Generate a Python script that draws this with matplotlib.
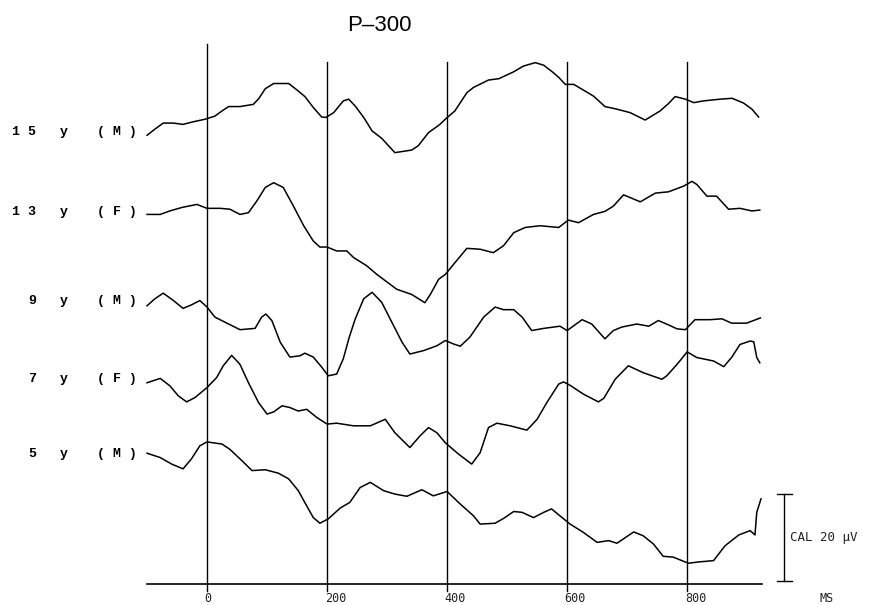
"""P-300 evoked potential traces by age group."""

import matplotlib.pyplot as plt

# time (ms) and amplitude (uV, relative to each trace's own baseline)
t_15m = [-100, -87, -73, -56, -40, -23, -3, 13, 25, 36, 55, 77, 86, 97, 111, 136, 150,
         163, 177, 191, 198, 211, 227, 236, 247, 261, 275, 291, 313, 341, 352, 369, 388,
         397, 413, 433, 444, 469, 486, 511, 527, 547, 561, 577, 586, 597, 611, 627, 644,
         663, 683, 705, 730, 755, 769, 780, 797, 811, 827, 855, 875, 894, 908, 919]
a_15m = [-0.7, 0.7, 2.1, 2.1, 1.8, 2.4, 3.0, 3.7, 4.9, 5.9, 5.9, 6.4, 7.7, 10.0, 11.2, 11.2, 9.7,
         8.2, 5.7, 3.5, 3.4, 4.5, 7.2, 7.6, 6.0, 3.4, 0.3, -1.4, -4.7, -4.1, -3.1, -0.1, 1.8,
         3.0, 4.9, 9.1, 10.3, 12.0, 12.3, 13.9, 15.2, 16.0, 15.4, 13.7, 12.6, 11.0, 11.0, 9.7, 8.3,
         5.9, 5.3, 4.5, 2.8, 4.9, 6.6, 8.2, 7.6, 6.8, 7.2, 7.6, 7.8, 6.7, 5.3, 3.5]

t_13f = [-100, -78, -62, -42, -17, 0, 22, 38, 55, 69, 83, 97, 111, 127, 144, 161, 177,
         188, 200, 216, 233, 244, 266, 283, 316, 341, 363, 372, 386, 397, 413, 433, 455,
         477, 494, 511, 530, 555, 586, 602, 619, 644, 663, 677, 694, 722, 747, 769, 794,
         808, 816, 833, 849, 869, 888, 908, 921]
a_13f = [-0.5, -0.5, 0.3, 1.1, 1.8, 0.9, 0.9, 0.7, -0.5, -0.1, 2.6, 5.7, 6.8, 5.7, 1.4, -3.1, -6.6,
         -8.0, -8.0, -8.9, -8.9, -10.4, -12.3, -14.3, -17.7, -18.9, -20.8, -18.9, -15.4, -14.3, -11.6, -8.3, -8.5,
         -9.3, -7.7, -4.7, -3.5, -3.1, -3.5, -1.8, -2.4, -0.5, 0.2, 1.4, 4.0, 2.4, 4.4, 4.7, 6.0,
         7.1, 6.4, 3.7, 3.7, 0.7, 0.9, 0.3, 0.5]

t_9m = [-100, -87, -73, -56, -40, -26, -12, 0, 13, 36, 55, 80, 91, 98, 108, 122, 138,
        155, 163, 177, 191, 202, 216, 227, 237, 247, 261, 275, 291, 308, 325, 338, 361,
        383, 397, 411, 422, 438, 461, 480, 494, 511, 525, 541, 561, 588, 600, 625, 641,
        663, 677, 691, 716, 736, 752, 769, 783, 797, 813, 838, 858, 874, 899, 922]
a_9m = [-1.1, 0.5, 1.8, 0.1, -1.7, -0.9, 0.1, -1.4, -3.7, -5.3, -6.6, -6.3, -3.7, -3.0, -4.5, -9.5, -12.9,
        -12.6, -12.0, -12.9, -15.2, -17.2, -16.8, -13.3, -8.3, -4.1, 0.5, 2.0, -0.3, -4.9, -9.5, -12.2, -11.4,
        -10.3, -9.1, -9.9, -10.4, -8.3, -3.7, -1.4, -2.0, -2.0, -3.7, -6.8, -6.3, -5.8, -6.8, -4.3, -5.3,
        -8.7, -6.8, -6.0, -5.3, -5.8, -4.5, -5.5, -6.4, -6.6, -4.3, -4.3, -4.1, -5.1, -5.1, -3.9]

t_7f = [-100, -78, -62, -48, -34, -20, 0, 16, 27, 41, 55, 69, 86, 100, 111, 125, 138,
        152, 166, 183, 200, 216, 244, 272, 297, 313, 338, 355, 369, 383, 397, 419, 441,
        455, 469, 483, 505, 533, 550, 566, 586, 594, 605, 627, 652, 661, 680, 702, 727,
        758, 766, 783, 800, 816, 844, 861, 874, 888, 905, 911, 916, 921]
a_7f = [-0.8, 0.2, -1.5, -3.8, -5.2, -4.2, -1.9, 0.4, 3.1, 5.5, 3.4, -0.8, -5.4, -8.0, -7.5, -6.1, -6.5,
        -7.3, -6.9, -8.8, -10.3, -10.1, -10.7, -10.7, -9.2, -12.3, -15.7, -13.0, -11.1, -12.3, -14.6, -17.2, -19.5,
        -16.9, -11.1, -10.1, -10.7, -11.7, -9.2, -5.4, -1.1, -0.6, -1.4, -3.4, -5.2, -4.4, 0.0, 3.1, 1.5,
        0.0, 0.8, 3.4, 6.3, 5.0, 4.2, 2.9, 5.0, 8.0, 8.8, 8.6, 5.0, 3.8]

t_5m = [-100, -78, -59, -40, -26, -12, 0, 25, 38, 58, 75, 97, 119, 136, 152, 166, 177,
        188, 202, 222, 238, 255, 272, 294, 313, 333, 358, 377, 400, 422, 444, 455, 480,
        494, 511, 525, 544, 561, 574, 588, 605, 627, 650, 669, 683, 711, 727, 744, 760,
        777, 802, 819, 844, 863, 886, 905, 913, 916, 923]
a_5m = [0.2, -0.8, -2.3, -3.4, -1.1, 1.9, 2.8, 2.3, 1.1, -1.5, -3.8, -3.6, -4.4, -5.7, -8.4, -11.9, -14.6,
        -15.9, -14.9, -12.4, -11.1, -7.7, -6.5, -8.4, -9.2, -9.7, -8.2, -9.6, -8.6, -11.5, -14.2, -16.1, -15.9,
        -14.8, -13.2, -13.4, -14.6, -13.4, -12.6, -14.2, -16.1, -18.0, -20.3, -19.9, -20.5, -17.9, -18.8, -20.7, -23.5,
        -23.7, -25.1, -24.8, -24.5, -21.1, -18.6, -17.6, -18.6, -13.4, -10.3]

ages = ["15", "13", "9", "7", "5"]
sexes = ["M", "F", "M", "F", "M"]
tick_values = [0, 200, 400, 600, 800]
cal_uv = 20

traces = [(t_15m, a_15m), (t_13f, a_13f), (t_9m, a_9m), (t_7f, a_7f), (t_5m, a_5m)]
offsets = [103.9, 85.5, 65.1, 47.1, 29.9]  # vertical position of each trace, uV above the time axis

mono = "Liberation Mono"
plotter = "DejaVu Sans Mono"

fig = plt.figure(figsize=(8.87, 6.05), dpi=100)
ax = fig.add_axes([0, 0, 1, 1])
ax.set_xlim(-345, 1133)
ax.set_ylim(-4.8, 134.3)
ax.axis("off")

# time grid and axis
for t in tick_values:
    top = 124.1 if t == 0 else 120.0
    ax.plot([t, t], [-1.6, top], color="black", lw=1.0)
    ax.text(t - 4, -3.2, f"{t}", ha="left", va="center", fontsize=8.5,
            family=plotter, color="#222222")
ax.plot([-100, 925], [0, 0], color="black", lw=1.2)
ax.text(1033, -3.2, "MS", ha="center", va="center", fontsize=8.5,
        family=plotter, color="#222222")

# traces and labels
for (t, a), off, age, sex in zip(traces, offsets, ages, sexes):
    ax.plot(t, [v + off for v in a], color="black", lw=1.1)
    ax.text(-285, off, " ".join(age), ha="right", va="center",
            fontsize=9.5, family=mono, weight="bold")
    ax.text(-238, off, "y", ha="center", va="center", fontsize=9.5,
            family=mono, weight="bold")
    ax.text(-183, off, f"( {sex} )", ha="left", va="center", fontsize=9.5,
            family=mono, weight="bold")

# calibration bar
ax.plot([962, 962], [0.7, 0.7 + cal_uv], color="black", lw=1.0)
ax.plot([950, 974], [0.7, 0.7], color="black", lw=1.0)
ax.plot([950, 974], [0.7 + cal_uv, 0.7 + cal_uv], color="black", lw=1.0)
ax.text(972, 10.8, f"CAL {cal_uv} \u00b5V", ha="left", va="center",
        fontsize=9, family=plotter, color="#222222")

ax.text(287, 128.5, "P\u2013300", ha="center", va="center", fontsize=16,
        family="Liberation Sans")

fig.savefig("out.png", dpi=100)
plt.close(fig)
